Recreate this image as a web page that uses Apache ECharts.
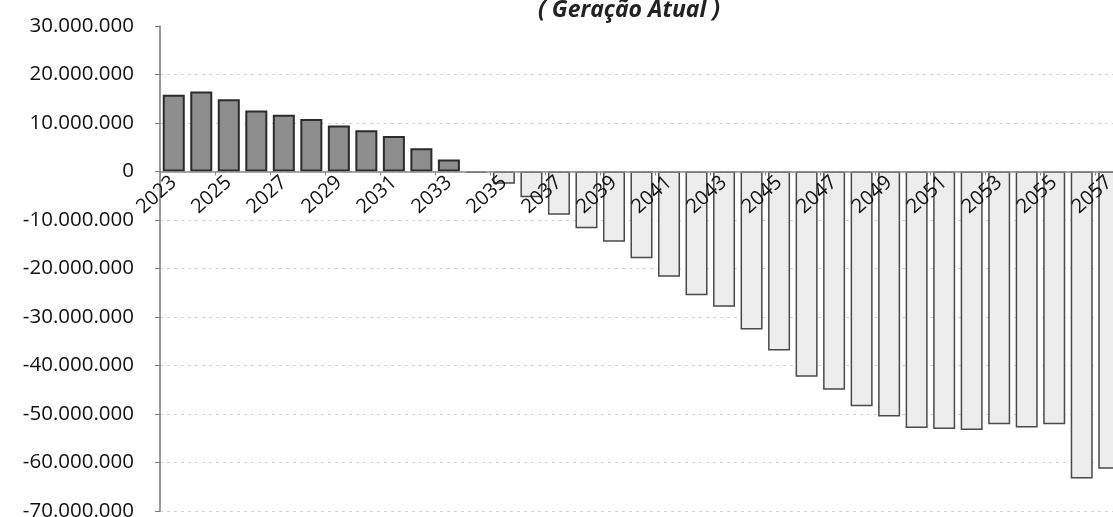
<!DOCTYPE html>
<html>
<head>
<meta charset="utf-8">
<script src="https://cdn.jsdelivr.net/npm/echarts@6/dist/echarts.min.js"></script>
<style>
  html, body { margin: 0; padding: 0; background: #fff; }
  #chart { width: 1113px; height: 517px; }
</style>
</head>
<body>
<div id="chart"></div>
<script>
// anos do eixo x
const years = [];
for (let y = 2023; y <= 2057; y++) years.push(String(y));

// saldo anual
const saldo = [
  15800000, 16500000, 14900000, 12600000, 11700000, 10800000, 9500000,
  8500000, 7300000, 4800000, 2500000, -300000, -2500000, -5300000,
  -8900000, -11700000, -14500000, -17900000, -21700000, -25500000,
  -27900000, -32600000, -36900000, -42300000, -45000000, -48400000,
  -50500000, -52900000, -53100000, -53300000, -52100000, -52800000,
  -52100000, -63300000, -61300000
];

const yMin = -70000000;
const yMax = 30000000;
const yStep = 10000000;

const titleText = '( Geração Atual )';

const fontFamily = '"Open Sans", "Noto Sans", sans-serif';

// área do gráfico
const gridTop = 26;
const gridBottom = 6;
const chartHeight = 517;

// formato pt-BR com pontos
const fmt = v => {
  const s = Math.abs(v).toString().replace(/\B(?=(\d{3})+(?!\d))/g, '.');
  return (v < 0 ? '-' : '') + s;
};

const chart = echarts.init(document.getElementById('chart'));

const barData = saldo.map(v => ({
  value: v,
  itemStyle: v >= 0
    ? { color: '#8e8e8e', borderColor: '#2b2b2b', borderWidth: 2 }
    : { color: '#ededed', borderColor: '#4a4a4a', borderWidth: 1.5 }
}));

// linhas de grade: a do topo fica invisível
const gridColors = [];
for (let v = yMin; v <= yMax; v += yStep) {
  gridColors.push(v === yMax ? 'rgba(0,0,0,0)' : '#d2d2d2');
}

// eixo x levado até o zero (deslocado a partir da base)
const plotH = chartHeight - gridTop - gridBottom;
const zeroOffset = -plotH * (0 - yMin) / (yMax - yMin);

chart.setOption({
  animation: false,
  backgroundColor: '#fff',
  title: {
    text: titleText,
    left: 533,
    top: -6,
    textStyle: {
      fontFamily,
      fontSize: 23,
      fontStyle: 'italic',
      fontWeight: 'bold',
      color: '#222'
    }
  },
  grid: {
    left: 160,
    right: -10,
    top: gridTop,
    bottom: gridBottom,
    containLabel: false,
    outerBoundsMode: 'none'
  },
  xAxis: {
    type: 'category',
    data: years,
    position: 'bottom',
    offset: zeroOffset,
    zlevel: 1,
    axisLine: { onZero: false, lineStyle: { color: '#8a8a8a', width: 1.5 } },
    axisTick: { show: true, length: 4, lineStyle: { color: '#8a8a8a' } },
    axisLabel: {
      interval: 1,
      rotate: 42,
      margin: 8,
      fontFamily,
      fontSize: 20,
      color: '#111'
    }
  },
  yAxis: {
    type: 'value',
    min: yMin,
    max: yMax,
    interval: yStep,
    axisLine: { show: true, lineStyle: { color: '#7a7a7a', width: 1.5 } },
    axisTick: { show: true, length: 5, lineStyle: { color: '#7a7a7a' } },
    axisLabel: {
      margin: 26,
      fontFamily,
      fontSize: 20.5,
      color: '#111',
      formatter: fmt
    },
    splitLine: {
      show: true,
      lineStyle: { color: gridColors, type: [3, 4], width: 1 }
    }
  },
  series: [{
    type: 'bar',
    data: barData,
    barWidth: '80%'
  }]
});
</script>
</body>
</html>
